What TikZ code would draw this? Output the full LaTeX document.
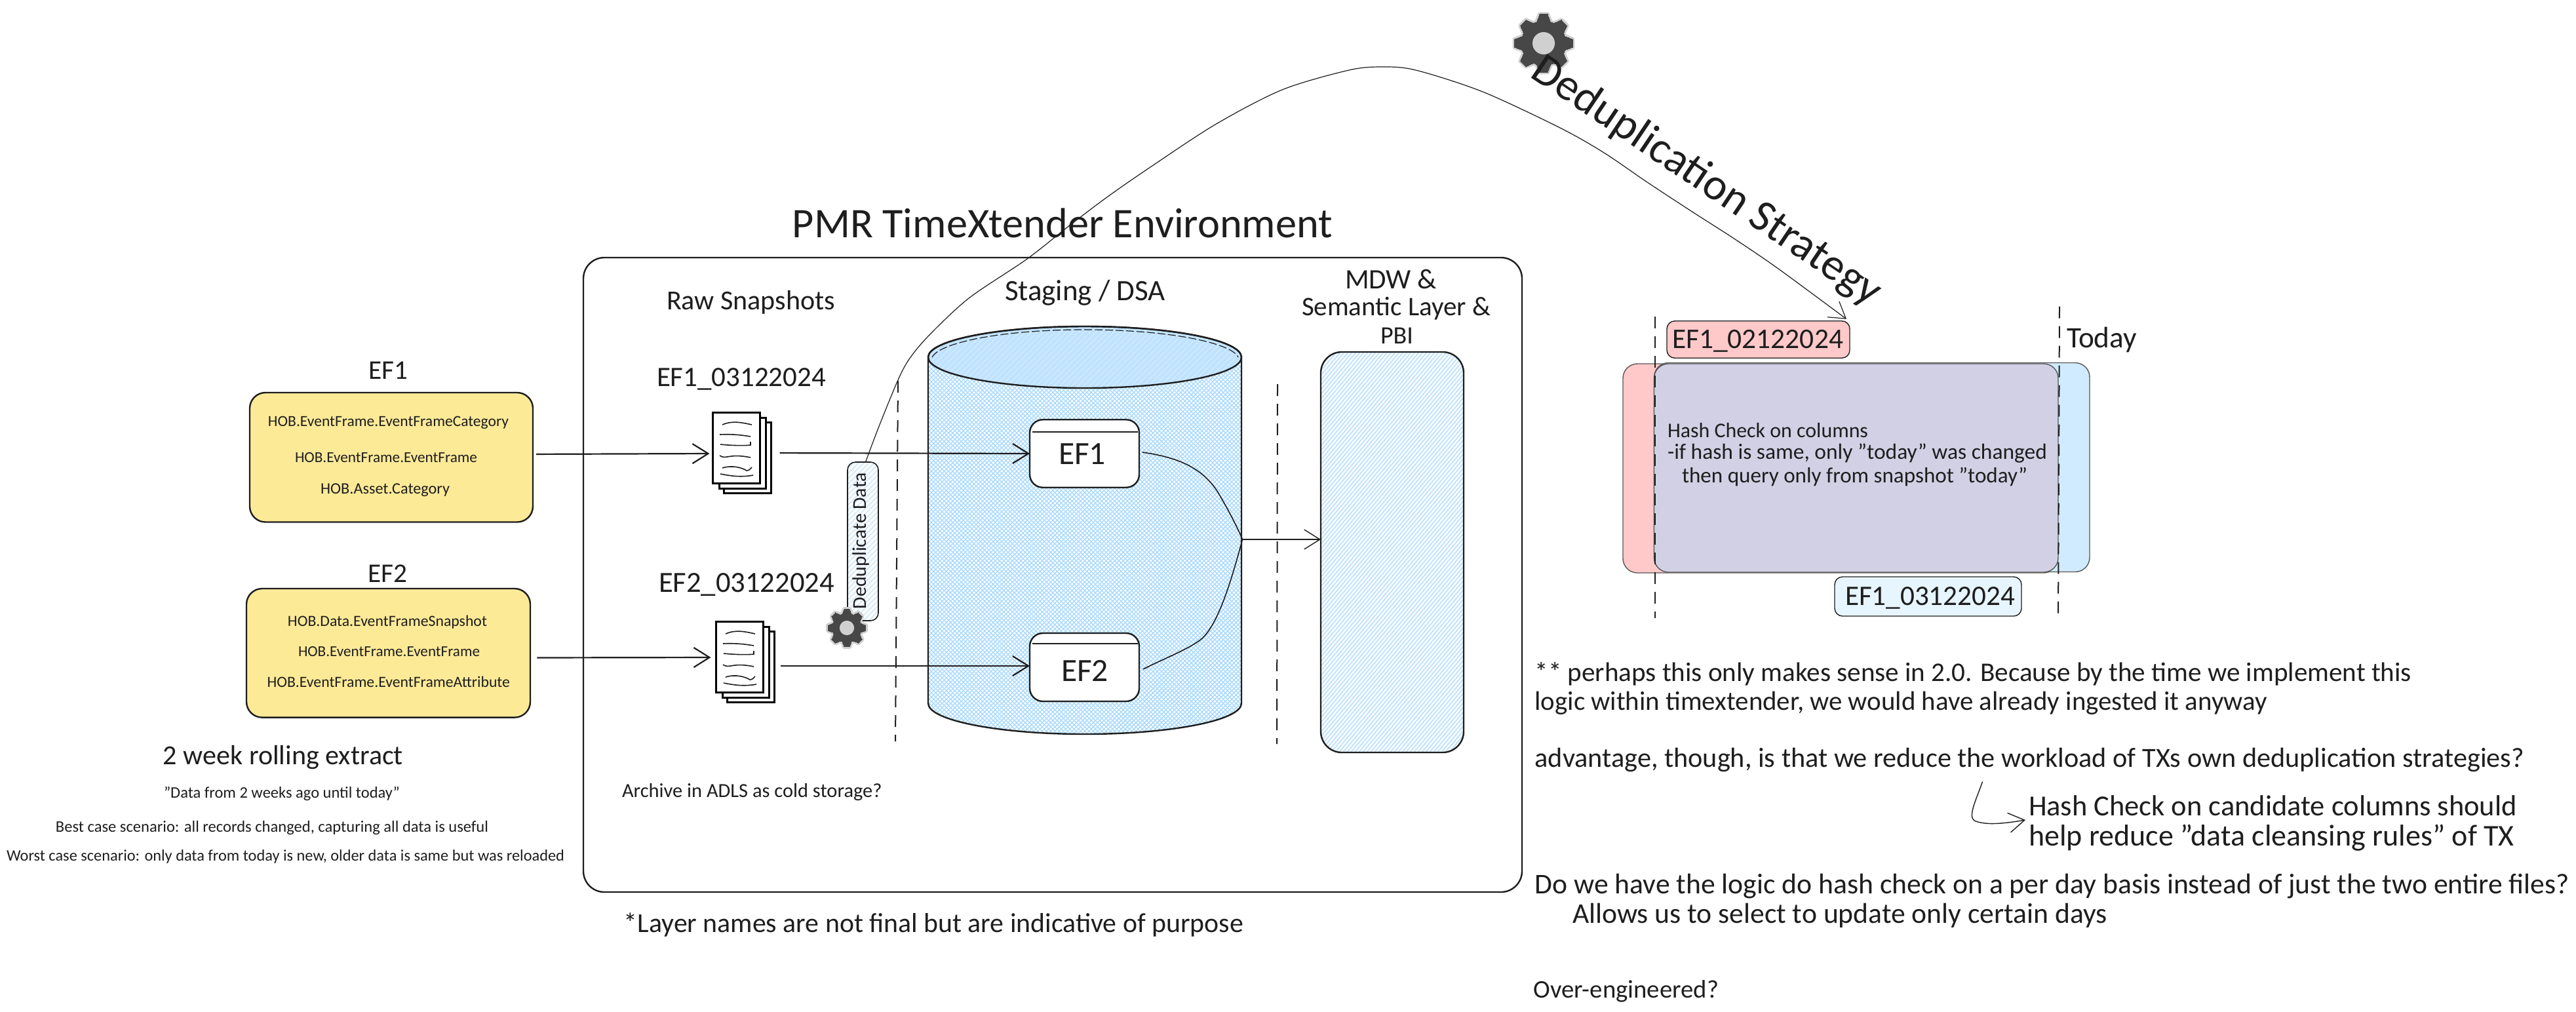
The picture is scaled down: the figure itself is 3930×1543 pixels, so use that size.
\documentclass[tikz,border=0pt]{standalone}
\usepackage{fontspec}
\usepackage{graphicx}
\setmainfont{Carlito}
\usetikzlibrary{arrows.meta}
\definecolor{ink}{HTML}{1E1E1E}
\definecolor{yel}{HTML}{FDEA97}
\definecolor{redf}{HTML}{FFC9C9}
\definecolor{bluef}{HTML}{D0EBFF}
\definecolor{blueg}{HTML}{E7F5FF}
\definecolor{over}{HTML}{D2D0E5}
\definecolor{hatcha}{HTML}{A5D8FF}
\definecolor{hatchb}{HTML}{C2E3FC}
\definecolor{hatchc}{HTML}{D3E9FB}
\definecolor{topfill}{HTML}{BFE2FF}
\definecolor{geard}{HTML}{474747}
\definecolor{gearl}{HTML}{D0D0D0}
\newdimen\txtw
\newcommand\fitw[2]{\txtw=#1pt\relax\resizebox{\txtw}{!}{#2}}
\newcommand\T[6][]{%
  \pgfmathsetmacro\cx{(#3+#4)/2}\pgfmathsetmacro\ww{(#4-#3)*0.25}%
  \node[txt,#1] (#2) at (\cx,#5) {\fitw{\ww}{#6}};}
\newcommand\gearicon[3]{%
  \begin{scope}[shift={(#1,#2)}]
    \foreach \lay/\col/\lw in {0/gearl/1.6pt,1/geard/0pt}{
      \fill[\col,draw=\col,line width=\lw] (0,0) circle[radius=0.74*#3*0.25pt];
      \foreach \a in {0,45,...,315}
        \fill[\col,draw=\col,line width=\lw,rotate=\a,line join=round]
          (-.24*#3,.68*#3) -- (-.13*#3,.96*#3) -- (.13*#3,.96*#3) -- (.24*#3,.68*#3) -- cycle;
    }
    \fill[gearl] (0,0) circle[radius=0.37*#3*0.25pt];
  \end{scope}}
\newcommand\docstack[3]{% name, centre x, centre y of the front page
  \draw[sheet,fill=white] (#2-19,#3-39) rectangle (#2+53,#3+69);
  \draw[sheet,fill=white] (#2-26,#3-46) rectangle (#2+45,#3+62);
  \node[sheet,draw,fill=white,minimum width=18pt,minimum height=27pt] (#1) at (#2,#3) {};
  \begin{scope}[shift={(#2,#3)}]
    \draw[scrib] (-21,-35) .. controls (-5,-42) and (10,-38) .. (24,-35);
    \draw[scrib] (-25,-20) .. controls (-5,-21) and (10,-19) .. (22,-17);
    \draw[scrib] (-24,-5) .. controls (-5,-3) and (15,-3) .. (22,-4) -- (22,-9);
    \draw[scrib] (-25,12) .. controls (-15,19) and (-12,8) .. (22,15);
    \draw[scrib] (-21,31) .. controls (-5,26) and (10,31) .. (16,35) .. controls (20,35) and (22,32) .. (24,30);
    \draw[scrib] (-24,40) .. controls (-5,44) and (10,45) .. (26,42);
  \end{scope}}
\tikzset{
  txt/.style={inner sep=0pt,outer sep=0pt,text=ink,anchor=center},
  stroke/.style={draw=ink,line width=.6pt},
  sz/.style 2 args={minimum width=#1*0.25pt,minimum height=#2*0.25pt,inner sep=0pt,outer sep=0pt},
  srcbox/.style={stroke,fill=yel,rounded corners=6pt},
  frame/.style={stroke,rounded corners=8pt},
  inner/.style={stroke,fill=white,rounded corners=5pt},
  arr/.style={draw=ink,line width=.55pt,-{Straight Barb[length=6pt,width=7.5pt]}},
  arrthin/.style={draw=ink,line width=.35pt,-{Straight Barb[length=6pt,width=7.5pt]}},
  link/.style={draw=ink,line width=.4pt},
  dashln/.style={draw=ink,line width=.5pt,dash pattern=on 4.5pt off 3pt},
  sheet/.style={draw=black,line width=.75pt},
  scrib/.style={draw=ink,line width=.4pt},
  hatA/.style={draw=hatcha,line width=.34pt},
  hatB/.style={draw=hatchb,line width=.5pt},
  hatC/.style={draw=hatchc,line width=.45pt},
  labelbox/.style={draw=ink,line width=.35pt,rounded corners=3pt},
  bandbox/.style={draw=ink!75,line width=.35pt,rounded corners=5.5pt},
}
\begin{document}
\begin{tikzpicture}[x=0.25pt,y=-0.25pt]
\useasboundingbox (0,0) rectangle (3930,1543);
\fill[white] (0,0) rectangle (3930,1543);

% environment frame
\node[frame,sz={1432}{968}] (env) at (1606,877) {};
\T{title}{1209}{2033}{340}{PMR TimeXtender Environment}

% sources
\T{ef1t}{562}{622}{565}{EF1}
\node[srcbox,sz={432}{197.5}] (ef1src) at (597,697.75) {};
\T{a1}{409}{776}{645}{HOB.EventFrame.EventFrameCategory}
\T{a2}{450}{728}{698}{HOB.EventFrame.EventFrame}
\T{a3}{489}{686}{748}{HOB.Asset.Category}
\T{ef2t}{561}{621}{875.6}{EF2}
\node[srcbox,sz={433}{196.6}] (ef2src) at (592.5,996.3) {};
\T{b1}{439}{743}{949}{HOB.Data.EventFrameSnapshot}
\T{b2}{455}{732}{994}{HOB.EventFrame.EventFrame}
\T{b3}{407.5}{778}{1040}{HOB.EventFrame.EventFrameAttribute}
\T{roll}{249}{615}{1155}{2 week rolling extract}
\T{roll2}{250}{610}{1210.6}{"Data from 2 weeks ago until today"}
\T{best}{85}{745}{1263}{Best case scenario: all records changed, capturing all data is useful}
\T{worst}{10}{861}{1307}{Worst case scenario: only data from today is new, older data is same but was reloaded}

% cylinder
\def\cylbody{(1416,545) -- (1416,1073) .. controls (1416,1099) and (1523,1120) .. (1655,1120) .. controls (1787,1120) and (1894,1099) .. (1894,1073) -- (1894,545) .. controls (1894,519) and (1787,498) .. (1655,498) .. controls (1523,498) and (1416,519) .. (1416,545) -- cycle}
\def\cyltop{(1416,545) .. controls (1416,519) and (1523,498) .. (1655,498) .. controls (1787,498) and (1894,519) .. (1894,545) .. controls (1894,571) and (1787,592) .. (1655,592) .. controls (1523,592) and (1416,571) .. (1416,545) -- cycle}
\begin{scope}
  \clip \cylbody;
  \draw[hatA] \foreach \i in {0,6.5,...,1120}{ (776+\i,1130) -- ++(640,-640) };
  \draw[hatA] \foreach \i in {0,6.5,...,1120}{ (776+\i,490) -- ++(640,640) };
\end{scope}
\begin{scope}
  \clip \cyltop;
  \fill[topfill] (1400,490) rectangle (1900,600);
  \draw[draw=white,opacity=.35,line width=.3pt] \foreach \i in {0,9,...,620}{ (1300+\i,600) -- ++(110,-110) };
\end{scope}
\draw[stroke] \cylbody;
\draw[stroke] \cyltop;
\draw[draw=ink,line width=.3pt,dash pattern=on 3pt off 1pt] (1422,545) .. controls (1432,524) and (1523,503) .. (1655,503) .. controls (1787,503) and (1880,524) .. (1889,545);

% panel
\begin{scope}
  \clip[rounded corners=8pt] (2015,537) rectangle (2233,1148);
  \draw[hatB] \foreach \i in {0,6,...,740}{ (1495+\i,1150) -- ++(520,-620) };
\end{scope}
\node[frame,sz={218}{611}] (panel) at (2124,842.5) {};

% inner boxes
\node[inner,sz={167}{103.5}] (st1) at (1654.5,692) {};
\draw[link] ([xshift=1pt,yshift=8.25pt]st1.west) -- ([xshift=-.5pt,yshift=8.25pt]st1.east);
\T{st1t}{1615}{1687}{693}{EF1}
\node[inner,sz={167}{104}] (st2) at (1654.5,1018) {};
\draw[link] ([xshift=1pt,yshift=9pt]st2.west) -- ([xshift=-.5pt,yshift=9pt]st2.east);
\T{st2t}{1619}{1691}{1023}{EF2}

% headers
\T{raw}{1017}{1274}{461}{Raw Snapshots}
\T{f1}{1002}{1260}{578}{EF1\_03122024}
\T{f2}{1005}{1273}{891.6}{EF2\_03122024}
\T{stg}{1533}{1778}{447}{Staging / DSA}
\T{m1}{2052}{2192}{426}{MDW \&}
\T{m2}{1986}{2274}{470.5}{Semantic Layer \&}
\T{m3}{2106}{2156}{512.6}{PBI}
\T{arch}{949}{1345.5}{1209}{Archive in ADLS as cold storage?}
\T{note}{952}{1897}{1411}{*Layer names are not final but are indicative of purpose}

% document stacks
\docstack{doc1}{1123}{683}
\docstack{doc2}{1128}{1002}

% dashed separators
\coordinate (d1a) at (1370,581); \coordinate (d1b) at (1366,1131);
\coordinate (d2a) at (1949,586); \coordinate (d2b) at (1948,1135);
\draw[dashln] (d1a) -- (d1b);
\draw[dashln] (d2a) -- (d2b);

% deduplicate box
\begin{scope}
  \clip[rounded corners=3pt] (1293,705) rectangle (1340,947);
  \draw[hatC] \foreach \i in {0,8,...,300}{ (1050+\i,950) -- ++(245,-245) };
\end{scope}
\node[draw=ink,line width=.4pt,rounded corners=3pt,sz={47}{242}] (ddup) at (1316.5,826) {};
\node[txt,rotate=90] (ddupt) at (1314,825) {\fitw{52}{Deduplicate Data}};
\gearicon{1292}{958}{30}

% connectors
\draw[arr,shorten <=1.25pt,shorten >=.75pt] ([yshift=1.2pt]ef1src.east) -- ([yshift=-2.25pt]doc1.west);
\draw[arr,shorten <=2.6pt,shorten >=1.5pt] ([yshift=-1.8pt]ef2src.east) -- ([yshift=-.25pt]doc2.west);
\draw[arr,shorten <=7.25pt] ([yshift=-2pt]doc1.east) -- (st1.west);
\draw[arr,shorten <=6.25pt] ([yshift=-3.5pt]doc2.east) -- ([yshift=.5pt]st2.west);
\coordinate (mrg) at (1895.5,823);
\draw[link] ([xshift=1.2pt,yshift=.5pt]st1.east) .. controls (1790,697) and (1835,710) .. (1861,756) .. controls (1875,780) and (1888,805) .. (mrg);
\draw[link] ([xshift=1.5pt,yshift=-.75pt]st2.east) .. controls (1775,1005) and (1815,990) .. (1834,974) .. controls (1860,950) and (1880,880) .. (mrg);
\draw[arrthin] (mrg) -- ([yshift=4.875pt]panel.west);

% dedup strategy
\node[fill=redf,labelbox,sz={279}{56.5}] (red) at (2682.5,518) {};
\draw[arrthin,line width=.3pt] plot[smooth,tension=.5] coordinates {([xshift=1pt]ddup.north) (1340,653) (1369,582) (1387,548) (1417,512) (1478,455) (1567,395) (1633,343) (1690,300) (1752,257) (1854,190) (1956,137) (2058,107) (2109,102) (2160,107) (2262,140) (2380,195) (2447,233) (2513,278) (2580,322) (2647,365) (2713,410) ([xshift=-1.25pt,yshift=.75pt]red.north east)};
\gearicon{2355}{66}{46}
\node[txt,rotate=-34] (strat) at (2603,277) {\fitw{157}{Deduplication Strategy}};
\T{ftxt}{2551}{2812}{520}{EF1\_02122024}

% overlap bands
\node[fill=redf,bandbox,sz={664}{319}] (bandr) at (2808,714.5) {};
\node[fill=bluef,bandbox,sz={664.5}{319}] (bandb) at (2855.75,713) {};
\node[fill=over,bandbox,sz={616.5}{318}] (bando) at (2831.75,714) {};
\coordinate (d3a) at (2525,483); \coordinate (d3b) at (2525,943);
\coordinate (d4a) at (3142,467.5); \coordinate (d4b) at (3140,944);
\draw[dashln] (d3a) -- (d3b);
\draw[dashln] (d4a) -- (d4b);
\T{today}{3153}{3260}{518}{Today}
\T{h1}{2544}{2850}{657}{Hash Check on columns}
\T{h2}{2544}{3123}{692}{-if hash is same, only "today" was changed}
\T{h3}{2566}{3093}{727}{then query only from snapshot "today"}
\node[fill=blueg,labelbox,sz={285}{60}] (blu) at (2941.5,910) {};
\T{gtxt}{2815}{3074}{912}{EF1\_03122024}

% notes
\T{n1}{2341.6}{3679}{1028.5}{** perhaps this only makes sense in 2.0. Because by the time we implement this}
\T{n2}{2341.6}{3459}{1072.6}{logic within timextender, we would have already ingested it anyway}
\T{n3}{2341.6}{3851}{1159}{advantage, though, is that we reduce the workload of TXs own deduplication strategies?}
\T{n4}{3095}{3840}{1229.5}{Hash Check on candidate columns should}
\T{n5}{3095}{3836}{1278}{help reduce "data cleansing rules" of TX}
\T{n6}{2341.6}{3920}{1351.6}{Do we have the logic do hash check on a per day basis instead of just the two entire files?}
\T{n7}{2399}{3215}{1396.5}{Allows us to select to update only certain days}
\T{n8}{2339.5}{2622}{1512}{Over-engineered?}
\coordinate (hs) at (3024.5,1192.6);
\coordinate (he) at (3090,1251);
\draw[arrthin] (hs) .. controls (3015,1220) and (3002,1245) .. (3012,1252) .. controls (3030,1260) and (3060,1256) .. (he);
\end{tikzpicture}
\end{document}
